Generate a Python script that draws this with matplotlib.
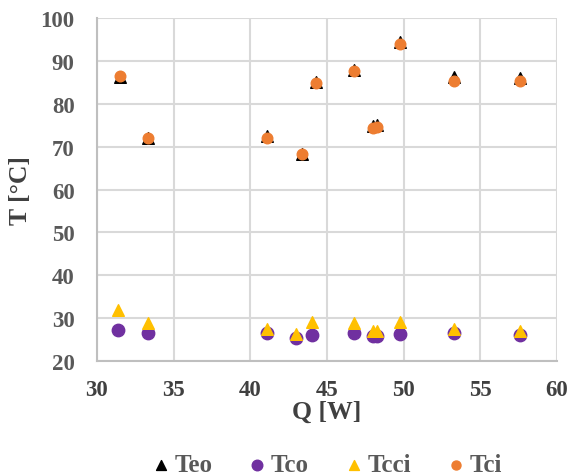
import matplotlib.pyplot as plt

# heat load and temperatures
q_hot = [31.5, 33.3, 41.1, 43.4, 44.3, 46.8, 48.0, 48.3, 49.8, 53.3, 57.6]
teo = [86.2, 72.0, 72.6, 68.4, 85.2, 87.9, 74.9, 75.1, 94.5, 86.3, 86.0]
tci = [86.5, 72.0, 72.0, 68.2, 84.9, 87.6, 74.3, 74.6, 93.9, 85.4, 85.4]

q_cold = [31.4, 33.3, 41.1, 43.0, 44.0, 46.8, 48.0, 48.3, 49.8, 53.3, 57.6]
tco = [27.3, 26.6, 26.6, 25.3, 26.1, 26.6, 25.9, 25.9, 26.3, 26.6, 26.1]
tcci = [32.0, 28.8, 27.4, 26.3, 29.1, 28.8, 27.1, 27.1, 29.1, 27.4, 27.1]

plt.rcParams['font.family'] = ['Liberation Serif', 'DejaVu Serif']
plt.rcParams['font.weight'] = 'bold'

fig = plt.figure(figsize=(5.67, 4.77), dpi=100)
ax = fig.add_axes([0.171, 0.241, 0.811, 0.719])

ax.scatter(q_hot, teo, marker='^', s=70, color='black', label='Teo', zorder=3)
ax.scatter(q_cold, tco, marker='o', s=80, color='#7030A0', label='Tco', zorder=3)
ax.scatter(q_cold, tcci, marker='^', s=70, color='#FFC000', label='Tcci', zorder=4)
ax.scatter(q_hot, tci, marker='o', s=58, color='#ED7D31', label='Tci', zorder=4)

ax.set_xlim(30, 60)
ax.set_ylim(20, 100)
ax.set_xticks(range(30, 61, 5))
ax.set_yticks(range(20, 101, 10))
ax.grid(True, color='#d9d9d9', linewidth=1.5, zorder=0)
ax.set_axisbelow(True)
for side in ['top', 'right']:
    ax.spines[side].set_visible(False)
for side in ['left', 'bottom']:
    ax.spines[side].set_color('#bfbfbf')
    ax.spines[side].set_linewidth(1.5)
ax.tick_params(length=0, labelsize=16.5)
ax.tick_params(axis='x', pad=13)
ax.tick_params(axis='y', pad=16)
for t in ax.get_yticklabels():
    t.set_color('#595959')
    t.set_fontweight('bold')
for t in ax.get_xticklabels():
    t.set_color('#404040')
    t.set_fontweight('bold')

ax.set_xlabel('Q [W]', fontsize=18.5, fontweight='bold', color='#404040', labelpad=0)
ax.set_ylabel('T [°C]', fontsize=18.5, fontweight='bold', color='#404040', labelpad=6)

leg = fig.legend(loc='lower center', ncol=4, frameon=False,
                 prop={'size': 18, 'weight': 'bold'},
                 bbox_to_anchor=(0.578, -0.048), handlelength=0.6,
                 handletextpad=0.25, columnspacing=1.5, markerscale=0.85)
for t in leg.get_texts():
    t.set_color('#595959')

fig.savefig('out.png', dpi=100)
